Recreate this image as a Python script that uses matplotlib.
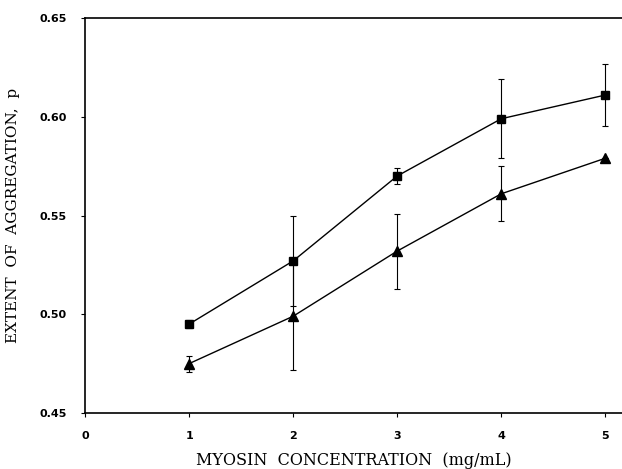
import matplotlib
matplotlib.use("Agg")
import matplotlib.pyplot as plt

conc = [1, 2, 3, 4, 5]

# squares (upper series)
sq_p = [0.495, 0.527, 0.570, 0.599, 0.611]
sq_err = [0.002, 0.023, 0.004, 0.020, 0.0155]

# triangles (lower series)
tri_p = [0.475, 0.499, 0.532, 0.561, 0.579]
tri_err = [0.004, 0.027, 0.019, 0.014, 0.0]

x_ticks = [0, 1, 2, 3, 4, 5]
y_ticks = [0.45, 0.50, 0.55, 0.60, 0.65]


def main():
    fig = plt.figure(figsize=(6.22, 4.69), dpi=100)
    ax = fig.add_axes([0.1367, 0.1194, 0.8633, 0.8422])

    ebkw = dict(ecolor="k", elinewidth=0.8, capsize=2.5, capthick=0.8)
    ax.errorbar(conc, sq_p, yerr=sq_err, color="k", linewidth=1.0,
                marker="s", markersize=5.5, markerfacecolor="k", **ebkw)
    ax.errorbar(conc, tri_p, yerr=tri_err, color="k", linewidth=1.0,
                marker="^", markersize=6.5, markerfacecolor="k", **ebkw)

    ax.set_xlim(0, 5.16)
    ax.set_ylim(0.45, 0.65)
    ax.set_xticks(x_ticks)
    ax.set_yticks(y_ticks)
    ax.set_yticklabels([f"{v:.2f}" for v in y_ticks])

    ax.spines["right"].set_visible(False)
    for s in ("left", "top", "bottom"):
        ax.spines[s].set_linewidth(1.2)

    ax.tick_params(direction="out", length=3, width=0.8, labelsize=8)
    for lab in ax.get_xticklabels() + ax.get_yticklabels():
        lab.set_fontweight("bold")
    ax.tick_params(axis="x", pad=10)
    ax.tick_params(axis="y", pad=10)

    ax.set_xlabel("MYOSIN  CONCENTRATION  (mg/mL)", family="DejaVu Serif",
                  fontsize=11.5, labelpad=8)
    ax.set_ylabel("EXTENT  OF  AGGREGATION,  p", family="DejaVu Serif",
                  fontsize=11, labelpad=14)

    fig.savefig("out.png", dpi=100)


if __name__ == "__main__":
    main()
